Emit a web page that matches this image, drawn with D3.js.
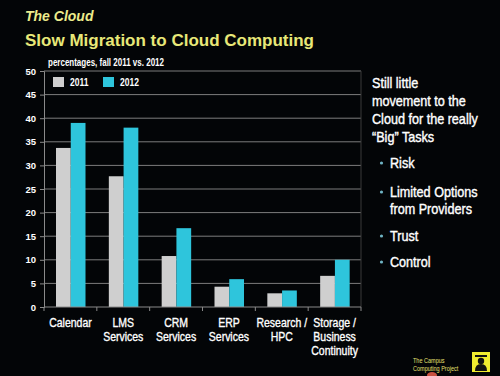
<!DOCTYPE html>
<html>
<head>
<meta charset="utf-8">
<script src="https://d3js.org/d3.v7.min.js"></script>
<style>
  body { margin: 0; background: #030507; }
  text { font-family: "Liberation Sans", Arial, sans-serif; }
</style>
</head>
<body>
<div id="chart"></div>
<script>
// chart data
var categories = [["Calendar"], ["LMS", "Services"], ["CRM", "Services"], ["ERP", "Services"], ["Research /", "HPC"], ["Storage /", "Business", "Continuity"]];
var seriesNames = ["2011", "2012"];
var values2011 = [33.7, 27.7, 10.8, 4.3, 2.9, 6.6];
var values2012 = [39.0, 38.0, 16.7, 5.9, 3.5, 10.0];
var yTicks = [0, 5, 10, 15, 20, 25, 30, 35, 40, 45, 50];
var notes = ["Still little", "movement to the", "Cloud for the really", "\u201cBig\u201d Tasks"];
var bullets = [["Risk"], ["Limited Options", "from Providers"], ["Trust"], ["Control"]];

var colors = {"2011": "#cfcfcf", "2012": "#2ec5dc"};

var W = 500, H = 376;
var margin = {top: 71, right: 139, bottom: 69, left: 44};
var width = W - margin.left - margin.right,
    height = H - margin.top - margin.bottom;

var svg = d3.select("#chart").append("svg")
    .attr("width", W)
    .attr("height", H);

svg.append("rect").attr("width", W).attr("height", H).attr("fill", "#030507");

// narrow text: no condensed font installed, so squeeze horizontally
function narrow(parent, x, y, sx) {
  return parent.append("g")
      .attr("transform", "translate(" + x + "," + y + ") scale(" + sx + ",1)")
    .append("text");
}

// titles
svg.append("text")
    .attr("x", 25).attr("y", 21)
    .style("font-size", "14px").style("font-weight", "bold").style("font-style", "italic")
    .attr("fill", "#ecec8c")
    .text("The Cloud");

svg.append("text")
    .attr("x", 25).attr("y", 46)
    .style("font-size", "17px").style("font-weight", "bold")
    .attr("fill", "#e8e878")
    .text("Slow Migration to Cloud Computing");

narrow(svg, 48, 66, 0.8)
    .style("font-size", "10px").style("font-weight", "bold")
    .attr("fill", "#ffffff")
    .text("percentages, fall 2011 vs. 2012");

var g = svg.append("g")
    .attr("transform", "translate(" + margin.left + "," + margin.top + ")");

// scales
var data = categories.map(function(c, i) {
  return {cat: c, i: i, "2011": values2011[i], "2012": values2012[i]};
});

var x0 = d3.scaleBand()
    .domain(d3.range(categories.length))
    .range([0, width]);

var x1 = d3.scaleBand()
    .domain(seriesNames)
    .range([12, 41.5]);

var y = d3.scaleLinear()
    .domain([0, 50])
    .range([height, 0]);

// grid
g.selectAll(".grid")
  .data(yTicks.filter(function(d) { return d > 0; }))
  .enter().append("line")
    .attr("x1", 0).attr("x2", width)
    .attr("y1", function(d) { return y(d); })
    .attr("y2", function(d) { return y(d); })
    .attr("stroke", "#7d7d7d")
    .attr("stroke-width", 1);

// right border
g.append("line")
    .attr("x1", width).attr("x2", width)
    .attr("y1", 0).attr("y2", height)
    .attr("stroke", "#3a3a3a");

// bars
var groups = g.selectAll(".group")
  .data(data)
  .enter().append("g")
    .attr("transform", function(d) { return "translate(" + x0(d.i) + ",0)"; });

groups.selectAll("rect")
  .data(function(d) { return seriesNames.map(function(s) { return {s: s, v: d[s]}; }); })
  .enter().append("rect")
    .attr("x", function(d) { return x1(d.s); })
    .attr("width", x1.bandwidth())
    .attr("y", function(d) { return y(d.v); })
    .attr("height", function(d) { return height - y(d.v); })
    .attr("fill", function(d) { return colors[d.s]; });

// y axis
var yAxis = d3.axisLeft(y).tickValues(yTicks).tickSize(4).tickPadding(4);
var ya = g.append("g").attr("class", "axis y-axis").call(yAxis);
ya.select(".domain").attr("stroke", "#8a8a8a");
ya.selectAll(".tick line").attr("stroke", "#8a8a8a");
ya.selectAll("text")
    .style("font-family", "'Liberation Sans', Arial, sans-serif")
    .style("font-size", "9.5px").style("font-weight", "bold")
    .attr("fill", "#ffffff");

// x axis
g.append("line")
    .attr("x1", 0).attr("x2", width)
    .attr("y1", height).attr("y2", height)
    .attr("stroke", "#8a8a8a");

g.selectAll(".xtick")
  .data(d3.range(categories.length + 1))
  .enter().append("line")
    .attr("x1", function(d) { return d * x0.step(); })
    .attr("x2", function(d) { return d * x0.step(); })
    .attr("y1", height).attr("y2", height + 4)
    .attr("stroke", "#8a8a8a");

data.forEach(function(d) {
  var t = narrow(g, x0(d.i) + x0.bandwidth() / 2, height + 20, 0.84)
      .attr("text-anchor", "middle")
      .style("font-size", "12.5px")
      .attr("fill", "#ffffff")
      .attr("stroke", "#ffffff")
      .attr("stroke-width", 0.35);
  t.selectAll("tspan")
    .data(d.cat)
    .enter().append("tspan")
      .attr("x", 0)
      .attr("dy", function(s, i) { return i === 0 ? 0 : 14; })
      .text(function(s) { return s; });
});

// legend
var legend = g.selectAll(".legend")
  .data(seriesNames)
  .enter().append("g")
    .attr("transform", function(d, i) { return "translate(" + (9 + i * 50) + ",6)"; });

legend.append("rect")
    .attr("width", 11).attr("height", 10)
    .attr("fill", function(d) { return colors[d]; });

legend.each(function(d) {
  narrow(d3.select(this), 17, 9, 0.85)
      .style("font-size", "10px").style("font-weight", "bold")
      .attr("fill", "#ffffff")
      .text(d);
});

// right-hand notes
var notesText = narrow(svg, 372, 88, 0.87)
    .style("font-size", "14.5px")
    .attr("fill", "#ffffff")
    .attr("stroke", "#ffffff")
    .attr("stroke-width", 0.4);

notesText.selectAll("tspan")
  .data(notes)
  .enter().append("tspan")
    .attr("x", 0)
    .attr("dy", function(d, i) { return i === 0 ? 0 : 18; })
    .text(function(d) { return d; });

var bulletY = [168, 197, 241, 267];
bullets.forEach(function(b, i) {
  svg.append("circle")
      .attr("cx", 381.5).attr("cy", bulletY[i] - 5)
      .attr("r", 1.6)
      .attr("fill", "#6fb4c4");
  var t = narrow(svg, 390, bulletY[i], 0.87)
      .style("font-size", "14.5px")
      .attr("fill", "#ffffff")
      .attr("stroke", "#ffffff")
      .attr("stroke-width", 0.4);
  t.selectAll("tspan")
    .data(b)
    .enter().append("tspan")
      .attr("x", 0)
      .attr("dy", function(d, j) { return j === 0 ? 0 : 17; })
      .text(function(d) { return d; });
});

// logo
narrow(svg, 413, 363, 0.85)
    .style("font-size", "6.5px")
    .attr("fill", "#e6e070")
    .text("The Campus");
narrow(svg, 413, 371, 0.85)
    .style("font-size", "6.5px")
    .attr("fill", "#e6e070")
    .text("Computing Project");

var logo = svg.append("g").attr("transform", "translate(472,352)");
logo.append("rect").attr("width", 18).attr("height", 20).attr("fill", "#f0ec30");
logo.append("rect").attr("x", 3).attr("y", 3).attr("width", 12).attr("height", 2).attr("fill", "#111");
logo.append("circle").attr("cx", 9).attr("cy", 9).attr("r", 3.2).attr("fill", "#111");
logo.append("path").attr("d", "M3,19 Q3,12 9,12 Q15,12 15,19 Z").attr("fill", "#111");
svg.append("ellipse").attr("cx", 432).attr("cy", 375).attr("rx", 5).attr("ry", 3).attr("fill", "#c85040");
</script>
</body>
</html>
